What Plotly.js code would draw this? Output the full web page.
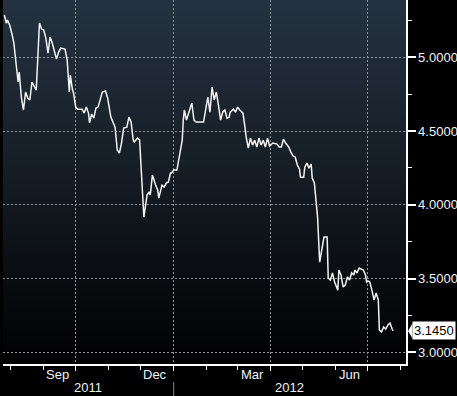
<!DOCTYPE html>
<html>
<head>
<meta charset="utf-8">
<script src="https://cdn.plot.ly/plotly-3.0.1.min.js"></script>
<style>
  html, body { margin: 0; padding: 0; background: #000; width: 457px; height: 396px; overflow: hidden; }
  #bg { position: absolute; left: 3px; top: 0; width: 403px; height: 364px;
        background: linear-gradient(to bottom, #243241 0%, #161e26 45%, #000000 100%); z-index: 0; }
  #chart { position: absolute; left: 0; top: 0; width: 457px; height: 396px; z-index: 1; }
</style>
</head>
<body>
<div id="bg"></div>
<div id="chart"></div>
<script>
// ---- data ----
const dates = [
 '2011-07-26','2011-07-28','2011-07-29','2011-07-31','2011-08-02','2011-08-04','2011-08-06','2011-08-08','2011-08-09','2011-08-11',
 '2011-08-13','2011-08-15','2011-08-17','2011-08-19','2011-08-21','2011-08-23','2011-08-25','2011-08-28','2011-08-30','2011-09-01',
 '2011-09-03','2011-09-05','2011-09-07','2011-09-09','2011-09-13','2011-09-15','2011-09-17','2011-09-21','2011-09-23','2011-09-25',
 '2011-09-26','2011-09-28','2011-09-29','2011-10-01','2011-10-03','2011-10-07','2011-10-09','2011-10-11','2011-10-13','2011-10-14',
 '2011-10-16','2011-10-18','2011-10-20','2011-10-22','2011-10-24','2011-10-26','2011-10-29','2011-10-31','2011-11-03','2011-11-05',
 '2011-11-07','2011-11-09','2011-11-11','2011-11-13','2011-11-15','2011-11-18','2011-11-20','2011-11-22','2011-11-24','2011-11-25',
 '2011-11-28','2011-11-30','2011-12-02','2011-12-04','2011-12-07','2011-12-09','2011-12-10','2011-12-12','2011-12-15','2011-12-17',
 '2011-12-18','2011-12-21','2011-12-23','2011-12-25','2011-12-27','2011-12-29','2011-12-30','2012-01-01','2012-01-04','2012-01-07',
 '2012-01-09','2012-01-10','2012-01-11','2012-01-13','2012-01-14','2012-01-16','2012-01-18','2012-01-20','2012-01-22','2012-01-29',
 '2012-01-31','2012-02-02','2012-02-04','2012-02-06','2012-02-08','2012-02-10','2012-02-12','2012-02-14','2012-02-16','2012-02-18',
 '2012-02-20','2012-02-22','2012-02-23','2012-02-26','2012-02-28','2012-03-01','2012-03-03','2012-03-06','2012-03-08','2012-03-09',
 '2012-03-11','2012-03-13','2012-03-15','2012-03-17','2012-03-19','2012-03-21','2012-03-23','2012-03-25','2012-03-27','2012-03-29',
 '2012-03-31','2012-04-03','2012-04-07','2012-04-09','2012-04-11','2012-04-13','2012-04-15','2012-04-18','2012-04-20','2012-04-22',
 '2012-04-24','2012-04-26','2012-04-28','2012-04-29','2012-05-02','2012-05-03','2012-05-05','2012-05-07','2012-05-09','2012-05-10',
 '2012-05-12','2012-05-15','2012-05-17','2012-05-19','2012-05-21','2012-05-24','2012-05-25','2012-05-27','2012-05-29','2012-05-31',
 '2012-06-03','2012-06-04','2012-06-06','2012-06-08','2012-06-10','2012-06-12','2012-06-14','2012-06-16','2012-06-18','2012-06-19',
 '2012-06-21','2012-06-23','2012-06-25','2012-06-27','2012-06-29','2012-06-30','2012-07-02','2012-07-03','2012-07-05','2012-07-07',
 '2012-07-09','2012-07-11','2012-07-12','2012-07-14','2012-07-16','2012-07-18','2012-07-20','2012-07-22','2012-07-24','2012-07-25'
];
const values = [
 5.287,5.231,5.253,5.219,5.165,5.097,4.961,4.833,4.900,4.731,
 4.643,4.765,4.724,4.711,4.833,4.799,4.778,5.233,5.192,5.185,
 5.131,5.029,5.138,5.097,4.988,5.036,5.063,5.056,4.982,4.765,
 4.880,4.778,4.758,4.663,4.649,4.649,4.622,4.663,4.622,4.555,
 4.616,4.588,4.656,4.663,4.711,4.765,4.772,4.724,4.595,4.561,
 4.527,4.372,4.351,4.419,4.521,4.527,4.595,4.561,4.439,4.426,
 4.453,4.439,4.168,3.917,4.066,4.087,4.066,4.202,4.134,4.100,
 4.046,4.134,4.121,4.148,4.155,4.216,4.216,4.236,4.236,4.372,
 4.439,4.575,4.643,4.575,4.595,4.643,4.690,4.575,4.561,4.561,
 4.663,4.731,4.629,4.799,4.711,4.765,4.677,4.575,4.629,4.643,
 4.588,4.595,4.629,4.649,4.629,4.663,4.643,4.622,4.521,4.460,
 4.385,4.453,4.405,4.439,4.392,4.453,4.405,4.439,4.392,4.453,
 4.399,4.419,4.412,4.392,4.392,4.446,4.419,4.392,4.358,4.331,
 4.324,4.270,4.243,4.188,4.188,4.256,4.283,4.249,4.277,4.182,
 4.148,3.917,3.612,3.694,3.782,3.782,3.504,3.490,3.538,3.477,
 3.422,3.558,3.524,3.443,3.456,3.511,3.490,3.538,3.524,3.558,
 3.538,3.572,3.565,3.558,3.524,3.477,3.483,3.477,3.422,3.355,
 3.402,3.355,3.151,3.138,3.172,3.158,3.185,3.199,3.158,3.145
];
const yTickVals = [3.0, 3.5, 4.0, 4.5, 5.0];
const yTickText = ['3.0000', '3.5000', '4.0000', '4.5000', '5.0000'];
const xGridDates = ['2011-10-01', '2012-01-01', '2012-04-01', '2012-07-01'];
const monthLabels = ['Sep', 'Dec', 'Mar', 'Jun'];
const monthLabelDates = ['2011-09-14', '2011-12-14', '2012-03-15', '2012-06-14'];
const yearLabels = ['2011', '2012'];
const yearLabelDates = ['2011-10-13', '2012-04-19'];
const yearBoundary = '2012-01-01';
const lastValue = 3.145;
const lastLabel = '3.1450';
const xRange = ['2011-07-24 19:00', '2012-08-06'];
const yRange = [2.921, 5.389];

// ---- chart ----
const FONT = 'Liberation Sans, Arial, sans-serif';
const textColor = '#eef3f8';
const gridColor = '#8e949a';

const trace = {
  type: 'scatter', mode: 'lines', x: dates, y: values,
  line: { color: '#f2f2f2', width: 1.5 }, hoverinfo: 'skip'
};

const annotations = [];
monthLabels.forEach((t, i) => annotations.push({
  xref: 'x', yref: 'paper', x: monthLabelDates[i], y: 0, yanchor: 'middle', yshift: -10,
  text: t, showarrow: false, font: { family: FONT, size: 13, color: textColor }
}));
yearLabels.forEach((t, i) => annotations.push({
  xref: 'x', yref: 'paper', x: yearLabelDates[i], y: 0, yanchor: 'middle', yshift: -23,
  text: t, showarrow: false, borderpad: 0, font: { family: FONT, size: 13, color: textColor }
}));
annotations.push({
  xref: 'paper', yref: 'y', x: 1, xshift: 6, xanchor: 'left', y: lastValue, yanchor: 'middle',
  text: lastLabel, showarrow: false, bgcolor: '#ffffff', borderpad: 1,
  font: { family: FONT, size: 13, color: '#000000' }
});

const shapes = [
  { type: 'line', xref: 'x', yref: 'paper', x0: yearBoundary, x1: yearBoundary, y0: -0.05, y1: -0.09,
    line: { color: '#8a8a8a', width: 1 } },
  { type: 'path', xref: 'paper', yref: 'y',
    path: 'M 1.005,' + lastValue + ' L 1.016,' + (lastValue + 0.05) + ' L 1.016,' + (lastValue - 0.05) + ' Z',
    fillcolor: '#ffffff', line: { width: 0 } }
];

const layout = {
  width: 457, height: 396,
  margin: { l: 3, r: 51, t: 0, b: 32, pad: 0 },
  paper_bgcolor: 'rgba(0,0,0,0)', plot_bgcolor: 'rgba(0,0,0,0)',
  showlegend: false,
  xaxis: {
    type: 'date', range: xRange, tickmode: 'array', tickvals: xGridDates,
    showticklabels: false, showgrid: true, gridcolor: gridColor, griddash: '2px,2px', gridwidth: 1,
    ticks: 'outside', ticklen: 5, tickwidth: 1.5, tickcolor: '#ffffff',
    showline: true, linecolor: '#ffffff', linewidth: 1.5, zeroline: false,
    minor: { dtick: 'M1', tick0: '2011-08-01', ticks: 'outside', ticklen: 4, tickwidth: 1.5, tickcolor: '#ffffff', showgrid: false },
    fixedrange: true
  },
  yaxis: {
    side: 'right', range: yRange, tickmode: 'array', tickvals: yTickVals, ticktext: yTickText,
    showgrid: true, gridcolor: gridColor, griddash: '2px,2px', gridwidth: 1,
    ticks: 'outside', ticklen: 8, tickwidth: 2, tickcolor: '#ffffff',
    showline: true, linecolor: '#ffffff', linewidth: 1.5, zeroline: false,
    tickfont: { family: FONT, size: 13, color: textColor },
    minor: { dtick: 0.25, tick0: 0, ticks: 'outside', ticklen: 4, tickwidth: 1, tickcolor: '#ffffff', showgrid: false },
    fixedrange: true
  },
  annotations: annotations,
  shapes: shapes
};

Plotly.newPlot('chart', [trace], layout, { staticPlot: true, displayModeBar: false });
</script>
</body>
</html>
